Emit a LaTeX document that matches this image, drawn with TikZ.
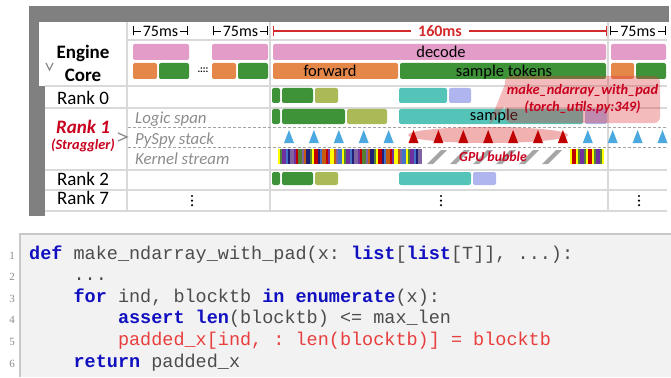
\documentclass[tikz,border=0pt]{standalone}
\usepackage{fontspec}
\setmainfont{Carlito}
\newfontfamily\codefont{Liberation Mono}
\newfontfamily\numfont{Liberation Serif}
\usetikzlibrary{arrows.meta,shapes.geometric,shapes.callouts}

\definecolor{framegray}{HTML}{808080}
\definecolor{gridgray}{HTML}{D9D9D9}
\definecolor{subgray}{HTML}{8C8C8C}
\definecolor{pinkbar}{HTML}{E39BC7}
\definecolor{orangebar}{HTML}{E6874A}
\definecolor{greenbar}{HTML}{3E9339}
\definecolor{olivebar}{HTML}{ABBA57}
\definecolor{tealbar}{HTML}{55C4B8}
\definecolor{lavbar}{HTML}{AEB5EF}
\definecolor{pyblue}{HTML}{4BA9E0}
\definecolor{hotred}{HTML}{C00000}
\definecolor{notered}{HTML}{C8001E}
\definecolor{spanred}{HTML}{D42A2A}
\definecolor{shadered}{HTML}{DC3C3C}
\definecolor{bubblegray}{HTML}{A6A6A6}
\definecolor{codebg}{HTML}{F2F2F2}
\definecolor{codeline}{HTML}{C8C8C8}
\definecolor{codetext}{HTML}{4C4C4C}
\definecolor{kwblue}{HTML}{1010C0}
\definecolor{codered}{HTML}{E83E3E}
% kernel colours
\definecolor{k0}{HTML}{FFFF00}
\definecolor{k1}{HTML}{1F1F78}
\definecolor{k2}{HTML}{7030A0}
\definecolor{k3}{HTML}{C55A11}
\definecolor{k4}{HTML}{548235}
\definecolor{k5}{HTML}{4472C4}
\definecolor{k6}{HTML}{C00000}
\definecolor{k7}{HTML}{8064A2}

\newcommand{\kw}[1]{\textcolor{kwblue}{\bfseries #1}}

\begin{document}
\begin{tikzpicture}[x=1pt,y=-1pt,
    tbar/.style={rounded corners=2pt},
    gridline/.style={gridgray,line width=1.4pt},
    subline/.style={gridgray!75!black,line width=0.9pt,dash pattern=on 3pt off 2pt},
    lbl/.style={font=\fontsize{19}{23}\selectfont,inner sep=0pt,anchor=base},
    barlbl/.style={font=\fontsize{16.5}{19}\selectfont,inner sep=0pt,anchor=base},
    steplbl/.style={font=\fontsize{16}{19}\selectfont,fill=white,inner ysep=0pt},
    sublbl/.style={font=\fontsize{16.8}{20}\selectfont\itshape,text=subgray,inner sep=0pt,anchor=base west},
    chev/.style={subgray,line width=1.3pt},
    vdot/.style={black,radius=1.2pt},
    codeln/.style={font=\fontsize{18.5}{22}\selectfont\codefont\frenchspacing,text=codetext,inner sep=0pt,anchor=base west},
    numln/.style={font=\fontsize{11}{13}\selectfont\numfont,text=subgray,inner sep=0pt,anchor=base}]
  \useasboundingbox (0,0) rectangle (671,377);

  % frame
  \fill[framegray] (29,6) rectangle (669,22);
  \fill[framegray] (29,6) rectangle (45,216);
  \fill[white] (39,22) rectangle (127,86);

  % grid
  \draw[gridline] (127,40) -- (667,40);
  \foreach \y in {86,108,170,190,211}
    \draw[gridline] (45,\y) -- (667,\y);
  \foreach \x in {127,270,608}
    \draw[gridline] (\x,22) -- (\x,211);
  \draw[subline] (128,127) -- (667,127);
  \draw[subline] (128,147) -- (667,147);

  % step lengths
  \draw[{Bar[width=9pt]}-{Bar[width=9pt]},line width=0.8pt] (133,31) -- (188,31)
    node[midway,steplbl,inner xsep=2pt] (step1) {75ms};
  \draw[{Bar[width=9pt]}-{Bar[width=9pt]},line width=0.8pt] (213,31) -- (268,31)
    node[midway,steplbl,inner xsep=2pt] (step2) {75ms};
  \draw[{Bar[width=10pt]}-{Bar[width=10pt]},spanred,line width=1.2pt] (273,31) -- (607,31)
    node[midway,steplbl,inner xsep=7pt,font=\fontsize{16}{19}\selectfont\bfseries] (step3) {160ms};
  \draw[{Bar[width=9pt]}-{Bar[width=9pt]},line width=0.8pt] (610,31) -- (666,31)
    node[midway,steplbl,inner xsep=2pt] (step4) {75ms};

  % row labels
  \node[font=\fontsize{19}{23}\selectfont\bfseries,align=center,inner sep=0pt] (engine) at (83,63.5) {Engine\\Core};
  \draw[chev] (46,63) -- (49.5,70) -- (53,63);
  \node[lbl] (rank0) at (83,104) {Rank 0};
  \node[lbl,text=notered,font=\fontsize{19}{23}\selectfont\bfseries\itshape] (rank1) at (83,133) {Rank 1};
  \node[lbl,text=notered,font=\fontsize{14.3}{17}\selectfont\bfseries\itshape] (strag) at (83,149) {(Straggler)};
  \draw[chev] (118,133) -- (127,137) -- (118,141);
  \node[lbl] (rank2) at (83,185) {Rank 2};
  \node[lbl] (rank7) at (83,204) {Rank 7};
  \node[sublbl] (logic) at (135,124) {Logic span};
  \node[sublbl] (pyspy) at (135,144) {PySpy stack};
  \node[sublbl] (kernel) at (135,164) {Kernel stream};

  % engine core
  \fill[pinkbar,tbar] (133,44) rectangle (189,60);
  \fill[pinkbar,tbar] (212,44) rectangle (268,60);
  \fill[pinkbar,tbar] (273,44) rectangle (606,60);
  \fill[pinkbar,tbar] (611,44) rectangle (666,60);
  \fill[orangebar,tbar] (133,63) rectangle (157,79);
  \fill[greenbar,tbar] (159,63) rectangle (189,79);
  \fill[orangebar,tbar] (212,63) rectangle (236,79);
  \fill[greenbar,tbar] (238,63) rectangle (268,79);
  \fill[orangebar,tbar] (273,63) rectangle (398,79);
  \fill[greenbar,tbar] (400,63) rectangle (606,79);
  \fill[orangebar,tbar] (611,63) rectangle (634,79);
  \fill[greenbar,tbar] (636,63) rectangle (666,79);
  \node[barlbl] (decode) at (441,58) {decode};
  \node[barlbl] (fwd) at (330,77) {forward};
  \node[barlbl] (sampletok) at (504,77) {sample tokens};
  \node[font=\fontsize{10}{12}\selectfont\bfseries,inner sep=0pt] (gap) at (203,70) {.:::};

  % rank 0
  \fill[greenbar,tbar] (272,88) rectangle (280,103);
  \fill[greenbar,tbar] (282,88) rectangle (313,103);
  \fill[olivebar,tbar] (315,88) rectangle (338,103);
  \fill[tealbar,tbar] (399,88) rectangle (447,103);
  \fill[lavbar,tbar] (449,88) rectangle (471,103);

  % rank 1: logic span
  \fill[greenbar,tbar] (272,109) rectangle (280,124);
  \fill[greenbar,tbar] (282,109) rectangle (345,124);
  \fill[olivebar,tbar] (347,109) rectangle (387,124);
  \fill[tealbar,tbar] (399,109) rectangle (583,124);
  \fill[lavbar,tbar] (585,109) rectangle (607,124);
  \node[barlbl] (sample) at (494,121) {sample};

  % rank 1: pyspy samples
  \node[ellipse,fill=shadered,fill opacity=0.4,minimum width=160pt,minimum height=16pt,inner sep=0pt] (hot) at (488,135) {};
  \foreach \k in {0,...,15} {
    \pgfmathsetmacro{\tx}{289+24.9*\k}
    \ifnum\k>4 \ifnum\k<12 \def\tc{hotred}\else\def\tc{pyblue}\fi \else\def\tc{pyblue}\fi
    \fill[\tc] (\tx-5,143) -- (\tx,130) -- (\tx+5,143) -- cycle;
  }

  % rank 1: kernel stream
  \foreach \i in {0,...,71} {
    \pgfmathtruncatemacro{\kc}{mod(\i*\i+3*\i+\i/4,8)}
    \fill[k\kc] (278+2*\i,149) rectangle ++(2,15);
  }
  \foreach \i in {0,...,16} {
    \pgfmathtruncatemacro{\kc}{mod(\i*\i+5*\i,8)}
    \fill[k\kc] (570+2*\i,149) rectangle ++(2,15);
  }
  \foreach \sx in {427,450,473,496,519,542}
    \fill[bubblegray] (\sx,164) -- (\sx+6,164) -- (\sx+20,150) -- (\sx+14,150) -- cycle;
  \node[font=\fontsize{13.8}{16}\selectfont\bfseries\itshape,text=notered,inner sep=0pt] (gpu) at (493,157) {GPU bubble};

  % rank 2
  \fill[greenbar,tbar] (272,172) rectangle (280,185);
  \fill[greenbar,tbar] (282,172) rectangle (313,185);
  \fill[olivebar,tbar] (315,172) rectangle (338,185);
  \fill[tealbar,tbar] (399,172) rectangle (471,185);
  \fill[lavbar,tbar] (473,172) rectangle (496,185);

  % rank 7
  \foreach \dx in {192,441,639}
    \fill[vdot] (\dx,196) circle[] (\dx,200.6) circle[] (\dx,205.2) circle[];

  % callout
  \node[rectangle callout,callout absolute pointer={(hot.north)},callout pointer width=22pt,
    fill=shadered,fill opacity=0.35,text opacity=1,rounded corners=6pt,
    minimum width=155pt,minimum height=47pt,inner sep=0pt,align=center,
    text=notered,font=\fontsize{14.4}{17}\selectfont\bfseries\itshape] (padnote) at (582.5,99.5)
    {make\_ndarray\_with\_pad\\(torch\_utils.py:349)};

  % code listing
  \fill[codebg] (20,234) rectangle (671,377);
  \draw[codeline,line width=1.2pt] (20,377) -- (20,234) -- (671,234);
  \foreach \n in {1,...,6}
    \node[numln] (num\n) at (12,{259+21.6*(\n-1)}) {\n};
  \node[codeln] (code1) at (29,259) {\kw{def} make\_ndarray\_with\_pad(x: \kw{list}[\kw{list}[T]], ...):};
  \node[codeln] (code2) at (73.4,280.6) {...};
  \node[codeln] (code3) at (73.4,302.2) {\kw{for} ind, blocktb \kw{in} \kw{enumerate}(x):};
  \node[codeln] (code4) at (117.8,323.8) {\kw{assert} \kw{len}(blocktb) <= max\_len};
  \node[codeln,text=codered] (code5) at (117.8,345.4) {padded\_x[ind, : len(blocktb)] = blocktb};
  \node[codeln] (code6) at (73.4,367) {\kw{return} padded\_x};
\end{tikzpicture}
\end{document}
